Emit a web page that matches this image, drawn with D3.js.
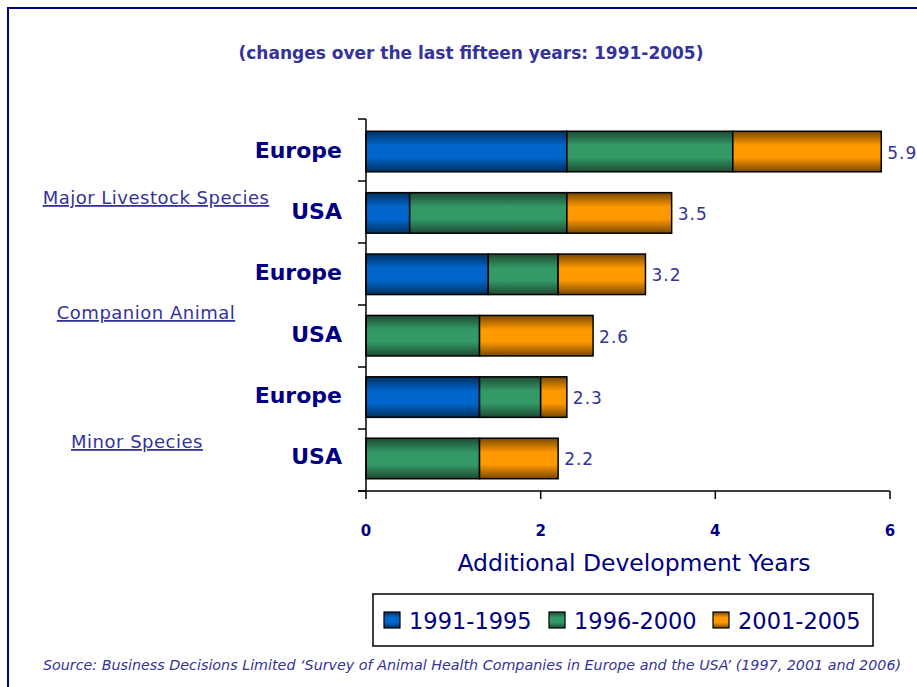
<!DOCTYPE html>
<html><head><meta charset="utf-8">
<script src="https://cdn.jsdelivr.net/npm/d3@7/dist/d3.min.js"></script>
<style>
html,body{margin:0;padding:0;background:#fff;}
svg{display:block;font-family:"DejaVu Sans",Verdana,sans-serif;}
</style></head>
<body>
<svg id="chart" width="917" height="687"></svg>
<script>
const categories = ["Europe","USA","Europe","USA","Europe","USA"];
const groups = ["Major Livestock Species","Companion Animal","Minor Species"];
const seriesNames = ["1991-1995","1996-2000","2001-2005"];
const s1991 = [2.3,0.5,1.4,0,1.3,0];
const s1996 = [1.9,1.8,0.8,1.3,0.7,1.3];
const s2001 = [1.7,1.2,1.0,1.3,0.3,0.9];
const totals = [5.9,3.5,3.2,2.6,2.3,2.2];
const xTicks = [0,2,4,6];
const title = "(changes over the last fifteen years: 1991-2005)";
const xTitle = "Additional Development Years";
const source = "Source: Business Decisions Limited \u2018Survey of Animal Health Companies in Europe and the USA\u2019 (1997, 2001 and 2006)";

const navy = "#000080", label = "#333399";
const colors = [["#0066CC","#00305f"],["#339966","#1d4a33"],["#FF9900","#7a4800"]];

const svg = d3.select("#chart");
const defs = svg.append("defs");
colors.forEach((c,i)=>{
  const g = defs.append("linearGradient").attr("id","g"+i).attr("x1",0).attr("y1",0).attr("x2",0).attr("y2",1);
  g.append("stop").attr("offset","0%").attr("stop-color",c[1]);
  g.append("stop").attr("offset","35%").attr("stop-color",c[0]);
  g.append("stop").attr("offset","65%").attr("stop-color",c[0]);
  g.append("stop").attr("offset","100%").attr("stop-color",c[1]);
});

// frame
svg.append("rect").attr("x",8).attr("y",8).attr("width",930).attr("height",700)
  .attr("fill","none").attr("stroke",navy).attr("stroke-width",2);

svg.append("text").attr("x",471).attr("y",59).attr("text-anchor","middle")
  .attr("font-size",17).attr("font-weight","bold").attr("fill",label).text(title);

const x = d3.scaleLinear().domain([0,6]).range([366,890]);
const idx = categories.map((d,i)=>i);
const y = d3.scaleBand().domain(idx).range([119,491]).paddingInner(0.34).paddingOuter(0.2);

const rows = idx.map(i=>({i, a:s1991[i], b:s1996[i], c:s2001[i]}));
const stack = d3.stack().keys(["a","b","c"])(rows);

stack.forEach((layer,k)=>{
  svg.append("g").selectAll("rect").data(layer.filter(d=>d[1]-d[0]>0)).join("rect")
    .attr("x",d=>x(d[0])).attr("width",d=>x(d[1])-x(d[0]))
    .attr("y",d=>y(d.data.i)).attr("height",y.bandwidth())
    .attr("fill","url(#g"+k+")").attr("stroke","#000").attr("stroke-width",1.5);
});

// value labels
svg.append("g").selectAll("text").data(idx).join("text")
  .attr("x",i=>x(totals[i])+6).attr("y",i=>y(i)+y.bandwidth()/2+7)
  .attr("font-size",17).attr("letter-spacing",1).attr("fill",label).text(i=>totals[i]);

// category labels
svg.append("g").selectAll("text").data(idx).join("text")
  .attr("x",342).attr("y",i=>y(i)+y.bandwidth()/2+6).attr("text-anchor","end")
  .attr("font-size",22).attr("font-weight","bold").attr("fill",navy).text(i=>categories[i]);

// group labels
const gOff = [17,8,13];
const step = (491-119)/6;
groups.forEach((g,k)=>{
  const yc = 119 + step*(2*k+1) + gOff[k];
  const gx = [156,146,137][k];
  svg.append("text").attr("x",gx).attr("y",yc+6).attr("text-anchor","middle")
    .attr("font-size",18).attr("letter-spacing",0.5).attr("fill",label).attr("text-decoration","underline").text(g);
});

// y axis
svg.append("line").attr("x1",366).attr("x2",366).attr("y1",119).attr("y2",491).attr("stroke","#000").attr("stroke-width",1.5);
svg.append("g").selectAll("line").data(d3.range(7)).join("line")
  .attr("x1",358).attr("x2",366).attr("y1",d=>119+d*step).attr("y2",d=>119+d*step)
  .attr("stroke","#000").attr("stroke-width",1.5);

// x axis
svg.append("line").attr("x1",358).attr("x2",890).attr("y1",491).attr("y2",491).attr("stroke","#000").attr("stroke-width",1.5);
svg.append("g").selectAll("line").data(xTicks).join("line")
  .attr("x1",d=>x(d)).attr("x2",d=>x(d)).attr("y1",491).attr("y2",499)
  .attr("stroke","#000").attr("stroke-width",1.5);
svg.append("g").selectAll("text").data(xTicks).join("text")
  .attr("x",d=>x(d)).attr("y",536).attr("text-anchor","middle")
  .attr("font-size",15).attr("font-weight","bold").attr("fill",navy).text(d=>d);
svg.append("text").attr("x",634).attr("y",571).attr("text-anchor","middle")
  .attr("font-size",23.5).attr("fill",navy).text(xTitle);

// legend
const leg = svg.append("g");
leg.append("rect").attr("x",373).attr("y",594).attr("width",500).attr("height",52)
  .attr("fill","#fff").attr("stroke","#000").attr("stroke-width",1.5);
const legX = [384,549,713];
seriesNames.forEach((s,k)=>{
  leg.append("rect").attr("x",legX[k]).attr("y",612).attr("width",16).attr("height",16)
    .attr("fill","url(#g"+k+")").attr("stroke","#000").attr("stroke-width",1.2);
  leg.append("text").attr("x",legX[k]+25).attr("y",629).attr("font-size",22.5).attr("fill",navy).text(s);
});

svg.append("text").attr("x",472).attr("y",670).attr("text-anchor","middle")
  .attr("font-size",14.3).attr("font-style","italic").attr("fill",label).text(source);
</script>
</body></html>
